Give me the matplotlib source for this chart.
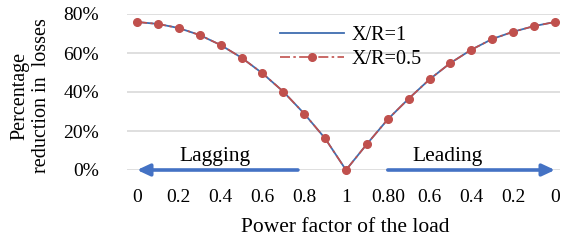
import matplotlib
matplotlib.use("Agg")
import matplotlib.pyplot as plt
from matplotlib.lines import Line2D

plt.rcParams['font.family'] = ['Liberation Serif', 'DejaVu Serif']

tick_labels = ["0", "", "0.2", "", "0.4", "", "0.6", "", "0.8", "", "1",
               "", "0.80", "", "0.6", "", "0.4", "", "0.2", "", "0"]
xr_1 = [75.9, 74.9, 72.8, 69.2, 64.1, 57.6, 49.6, 40.2, 28.9, 16.2, 0.0,
        13.3, 26.0, 36.6, 46.5, 54.9, 61.7, 67.2, 70.9, 73.8, 75.9]
xr_05 = [75.9, 74.9, 72.8, 69.2, 64.1, 57.6, 49.6, 40.2, 28.9, 16.2, 0.0,
         13.3, 26.0, 36.6, 46.5, 54.9, 61.7, 67.2, 70.9, 73.8, 75.9]

W, H = 562, 240
fig = plt.figure(figsize=(W/100, H/100), dpi=100)
ax = fig.add_axes([127/W, (H-170)/H, (560-127)/W, (170-14)/H])

x = list(range(len(tick_labels)))
blue = '#3F6DB0'
red = '#C0504D'
ax.plot(x, [v/100 for v in xr_1], color=blue, lw=1.3, zorder=3, clip_on=False)
ax.plot(x, [v/100 for v in xr_05], color=red, lw=1.2, ls=(0, (6, 2, 1.5, 2)), marker='o',
        markersize=5.5, zorder=4, clip_on=False)

ax.set_xlim(-0.48, 20.24)
ax.set_ylim(0, 0.8)
ax.set_yticks([0, 0.2, 0.4, 0.6, 0.8])
ax.set_yticklabels(["0%", "20%", "40%", "60%", "80%"], fontsize=14)
ax.set_xticks(x)
ax.set_xticklabels(tick_labels, fontsize=14)
ax.tick_params(axis='x', length=0, pad=14)
ax.tick_params(axis='y', length=0, pad=20)
for s in ax.spines.values():
    s.set_visible(False)
ax.grid(axis='y', color='#D9D9D9', lw=1.2)
ax.set_axisbelow(True)

# arrows
arrow_c = '#4472C4'
astyle = '-|>,head_length=0.75,head_width=0.35'
ax.annotate('', xy=(0, 0), xytext=(7.7, 0),
            arrowprops=dict(arrowstyle=astyle, color=arrow_c, lw=2.6,
                            shrinkA=0, shrinkB=0), annotation_clip=False, zorder=2)
ax.annotate('', xy=(20, 0), xytext=(12, 0),
            arrowprops=dict(arrowstyle=astyle, color=arrow_c, lw=2.6,
                            shrinkA=0, shrinkB=0), annotation_clip=False, zorder=2)
ax.text(3.75, 0.02, "Lagging", fontsize=15.5, ha='center', va='bottom')
ax.text(14.85, 0.02, "Leading", fontsize=15.5, ha='center', va='bottom')

handles = [Line2D([], [], color=blue, lw=1.3),
           Line2D([], [], color=red, lw=1.2, ls=(0, (6, 2, 1.5, 2)), marker='o', markersize=5.5)]
leg = ax.legend(handles, ["X/R=1", "X/R=0.5"], loc='upper left',
                bbox_to_anchor=((280-127)/(560-127), 0.925), frameon=False,
                fontsize=14.5, handlelength=3.2, labelspacing=0.25, handletextpad=0.35,
                borderpad=0, borderaxespad=0)

fig.text(345/W, 1 - 227/H, "Power factor of the load", fontsize=15.5, ha='center', va='center')
fig.text(31/W, 1 - 96/H, "Percentage\nreduction in  losses", fontsize=14.5, ha='center',
         va='center', rotation=90, linespacing=1.2)

fig.savefig("out.png", dpi=100)
